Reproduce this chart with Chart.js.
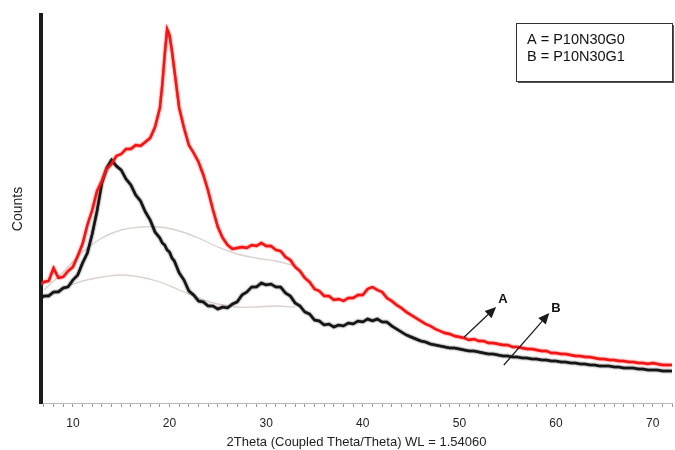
<!DOCTYPE html>
<html>
<head>
<meta charset="utf-8">
<script src="https://cdn.jsdelivr.net/npm/chart.js@4/dist/chart.umd.min.js"></script>
<style>
  html, body { margin: 0; padding: 0; background: #fff; }
  #wrap { width: 675px; height: 450px; position: relative; }
</style>
</head>
<body>
<div id="wrap"><canvas id="xrd"></canvas></div>
<script>
/************* Data *************/

const twoTheta = [6.7, 7, 7.5, 8, 8.5, 9, 9.5, 10, 10.5, 11, 11.5, 12, 12.5, 13, 13.5, 14, 14.5, 15, 15.5, 16, 16.5, 17, 17.5, 18, 18.5, 19,
    19.25, 19.5, 19.75, 20, 20.25,
    20.5, 21, 21.5, 22, 22.5, 23, 23.5, 24, 24.5, 25, 25.5, 26, 26.5, 27, 27.5, 28, 28.5, 29, 29.5, 30, 30.5, 31, 31.5, 32, 32.5,
    33, 33.5, 34, 34.5, 35, 35.5, 36, 36.5, 37, 37.5, 38, 38.5, 39, 39.5, 40, 40.5, 41, 41.5, 42, 42.5, 43, 43.5, 44, 44.5, 45,
    45.5, 46, 46.5, 47, 47.5, 48, 48.5, 49, 49.5, 50, 50.5, 51, 51.5, 52, 52.5, 53, 53.5, 54, 54.5, 55, 55.5, 56, 56.5, 57, 57.5,
    58, 58.5, 59, 59.5, 60, 60.5, 61, 61.5, 62, 62.5, 63, 63.5, 64, 64.5, 65, 65.5, 66, 66.5, 67, 67.5, 68, 68.5, 69, 69.5, 70,
    70.5, 71, 71.5, 72];

// A = P10N30G0 (red)
const countsA = [119, 121, 122, 135, 125, 126, 132, 136, 147, 159, 178, 193, 212, 222, 234, 239, 247, 249, 254, 254, 258, 257, 261, 265, 276, 295,
    318, 348, 374, 368, 352,
    333, 295, 275, 258, 250, 241, 228, 212, 193, 176, 165, 158, 154, 155, 156, 155, 158, 157, 160, 157, 157, 153, 152, 146, 143,
    136, 132, 125, 121, 114, 112, 107, 107, 103, 104, 102, 105, 105, 108, 108, 114, 116, 113, 111, 105, 102, 98, 95, 91, 88,
    85, 82, 79, 77, 74, 72, 70, 69, 67, 66, 65, 63, 64, 62, 62, 60, 60, 59, 58, 58, 56, 56, 55, 54, 54,
    53, 52, 52, 50, 50, 49, 49, 48, 47, 47, 46, 46, 45, 44, 44, 43, 43, 42, 42, 41, 41, 40, 40, 39, 40,
    39, 38, 38, 38];

// B = P10N30G1 (black)
const countsB = [105, 107, 107, 111, 111, 115, 116, 123, 128, 140, 150, 169, 192, 220, 235, 243, 237, 233, 224, 218, 208, 202, 191, 183, 171, 165,
    160, 158, 153, 151, 145,
    142, 130, 123, 112, 108, 102, 101, 97, 97, 94, 96, 95, 99, 101, 108, 111, 116, 116, 120, 118, 119, 116, 116, 110, 107,
    100, 97, 91, 89, 83, 82, 78, 79, 76, 78, 77, 80, 79, 82, 81, 84, 82, 84, 81, 81, 77, 74, 71, 68, 66,
    64, 62, 61, 59, 58, 57, 56, 55, 55, 54, 53, 52, 52, 51, 50, 49, 49, 48, 47, 47, 46, 46, 45, 45, 44,
    44, 43, 43, 42, 42, 41, 41, 40, 40, 39, 39, 38, 38, 37, 37, 37, 36, 36, 35, 35, 35, 34, 34, 33, 33,
    33, 32, 32, 32];

// amorphous background fits (light grey)
const bgTheta = [7, 9, 11, 13, 15, 17, 19, 21, 23, 25, 27, 29, 31, 33];
const bgA = [113, 131, 151, 165, 173, 176, 176, 172, 165, 156, 149, 145, 142, 137];
const bgB = [107, 115, 122, 126, 128, 126, 121, 113, 105, 99, 96, 96, 97, 96];

const tickLabels = [10, 20, 30, 40, 50, 60, 70];
const minorTicks = [7, 8, 9, 10, 11, 12, 13, 14, 15, 16, 17, 18, 19, 20, 21, 22, 23, 24, 25, 26, 27, 28, 29, 30, 31, 32, 33, 34,
    35, 36, 37, 38, 39, 40, 41, 42, 43, 44, 45, 46, 47, 48, 49, 50, 51, 52, 53, 54, 55, 56, 57, 58, 59, 60, 61, 62, 63, 64, 65,
    66, 67, 68, 69, 70, 71, 72];

const legendLines = ["A = P10N30G0", "B = P10N30G1"];
// arrows: [x1, y1, x2, y2] in data units, label at tip
const arrowA = [50.5, 66, 53.8, 96];
const arrowB = [54.6, 38, 59.3, 90];
const arrowLabels = [{ text: "A", x: 54.5, y: 104 }, { text: "B", x: 60.0, y: 95 }];

/************* Chart *************/

const FONT = "'Liberation Sans', Arial, sans-serif";

function pts(xs, ys) {
    return xs.map(function (x, i) { return { x: x, y: ys[i] }; });
}

// soft edge on the measured scans so they look like noisy detector traces
const fuzz = {
    id: 'fuzz',
    beforeDatasetDraw: function (chart, args) {
        const ds = chart.data.datasets[args.index];
        chart.ctx.save();
        if (ds.fuzzy) {
            chart.ctx.shadowColor = ds.borderColor;
            chart.ctx.shadowBlur = 2;
        }
    },
    afterDatasetDraw: function (chart) {
        chart.ctx.restore();
    }
};

const extras = {
    id: 'extras',
    afterDatasetsDraw: function (chart) {
        const ctx = chart.ctx;
        const sx = chart.scales.x, sy = chart.scales.y;
        ctx.save();

        // arrows
        [arrowA, arrowB].forEach(function (a) {
            const x1 = sx.getPixelForValue(a[0]), y1 = sy.getPixelForValue(a[1]);
            const x2 = sx.getPixelForValue(a[2]), y2 = sy.getPixelForValue(a[3]);
            const ang = Math.atan2(y2 - y1, x2 - x1);
            const hl = 11, hw = 5;
            ctx.strokeStyle = '#1a1a1a';
            ctx.fillStyle = '#1a1a1a';
            ctx.lineWidth = 1.2;
            ctx.beginPath();
            ctx.moveTo(x1, y1);
            ctx.lineTo(x2 - hl * Math.cos(ang), y2 - hl * Math.sin(ang));
            ctx.stroke();
            ctx.beginPath();
            ctx.moveTo(x2, y2);
            ctx.lineTo(x2 - hl * Math.cos(ang) + hw * Math.sin(ang), y2 - hl * Math.sin(ang) - hw * Math.cos(ang));
            ctx.lineTo(x2 - hl * Math.cos(ang) - hw * Math.sin(ang), y2 - hl * Math.sin(ang) + hw * Math.cos(ang));
            ctx.closePath();
            ctx.fill();
        });

        ctx.font = "bold 13px " + FONT;
        ctx.fillStyle = '#111';
        ctx.textAlign = 'center';
        ctx.textBaseline = 'middle';
        arrowLabels.forEach(function (l) {
            ctx.fillText(l.text, sx.getPixelForValue(l.x), sy.getPixelForValue(l.y));
        });

        // legend box
        ctx.fillStyle = '#fff';
        ctx.fillRect(516, 23, 156, 58);
        ctx.fillStyle = '#555';
        ctx.fillRect(672, 25, 2, 58);
        ctx.fillRect(518, 81, 156, 2);
        ctx.strokeStyle = '#333';
        ctx.lineWidth = 1;
        ctx.strokeRect(516.5, 23.5, 156, 58);
        ctx.fillStyle = '#111';
        ctx.font = "14.5px " + FONT;
        ctx.textAlign = 'left';
        legendLines.forEach(function (t, i) {
            ctx.fillText(t, 527, 40 + i * 17);
        });
        ctx.restore();
    }
};

const chart = new Chart(document.getElementById('xrd'), {
    type: 'line',
    data: {
        datasets: [
            {
                label: 'A',
                data: pts(twoTheta, countsA),
                borderColor: 'rgb(245,20,20)',
                borderWidth: 2.4,
                pointRadius: 0,
                tension: 0,
                fuzzy: true,
                order: 0
            },
            {
                label: 'B',
                data: pts(twoTheta, countsB),
                borderColor: '#151515',
                borderWidth: 2.5,
                pointRadius: 0,
                tension: 0,
                fuzzy: true,
                order: 1
            },
            {
                label: 'bgA',
                data: pts(bgTheta, bgA),
                borderColor: 'rgba(210,195,195,0.8)',
                borderWidth: 1.3,
                pointRadius: 0,
                tension: 0.4,
                order: 3
            },
            {
                label: 'bgB',
                data: pts(bgTheta, bgB),
                borderColor: 'rgba(210,195,195,0.8)',
                borderWidth: 1.3,
                pointRadius: 0,
                tension: 0.4,
                order: 3
            }
        ]
    },
    options: {
        responsive: true,
        maintainAspectRatio: false,
        animation: false,
        layout: { padding: { top: 15, right: 3, left: 0, bottom: 0 } },
        plugins: {
            legend: { display: false },
            tooltip: { enabled: false }
        },
        scales: {
            x: {
                type: 'linear',
                min: 6.7,
                max: 72,
                afterBuildTicks: function (scale) {
                    scale.ticks = minorTicks.map(function (v) { return { value: v }; });
                },
                afterFit: function (scale) {
                    scale.height = 47;
                    scale.paddingLeft = 0;
                    scale.paddingRight = 0;
                },
                ticks: {
                    autoSkip: false,
                    maxRotation: 0,
                    padding: 9,
                    color: '#222',
                    font: { family: FONT, size: 12 },
                    callback: function (v) { return tickLabels.indexOf(v) >= 0 ? String(v) : ''; }
                },
                grid: { drawOnChartArea: false, tickLength: 4, color: '#999', tickWidth: 1 },
                border: { color: '#bbb', width: 1 },
                title: {
                    display: true,
                    text: '2Theta (Coupled Theta/Theta) WL = 1.54060',
                    color: '#222',
                    font: { family: FONT, size: 13 },
                    padding: { top: 0, bottom: 0 }
                }
            },
            y: {
                min: 0,
                max: 388,
                afterFit: function (scale) { scale.width = 41; },
                ticks: { display: false },
                grid: { display: false, drawTicks: false },
                border: { color: '#1a1a1a', width: 4 },
                title: {
                    display: true,
                    text: 'Counts',
                    color: '#222',
                    font: { family: FONT, size: 14 },
                    padding: { top: 10, bottom: 0 }
                }
            }
        }
    },
    plugins: [fuzz, extras]
});
</script>
</body>
</html>
